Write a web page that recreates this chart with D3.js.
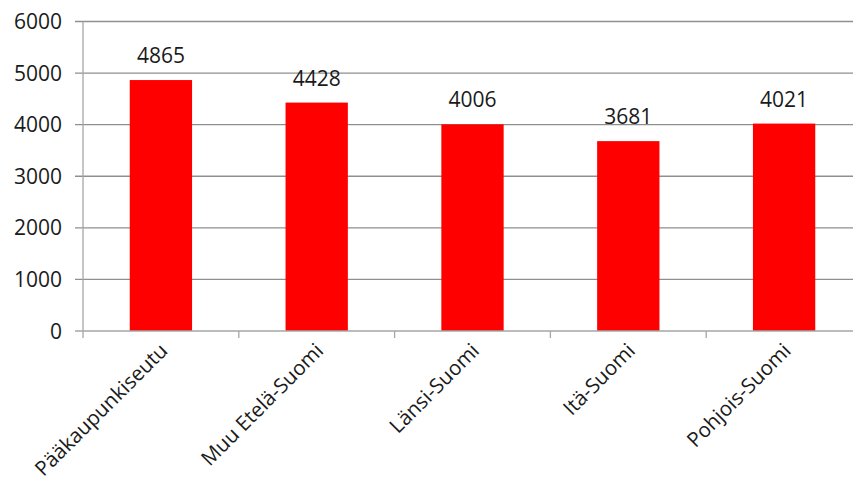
<!DOCTYPE html>
<html>
<head>
<meta charset="utf-8">
<script src="https://cdn.jsdelivr.net/npm/d3@7"></script>
<style>
  body { margin: 0; background: #fff; }
  text { font-family: "Open Sans", sans-serif; fill: #1a1a1a; }
</style>
</head>
<body>
<svg id="chart"></svg>
<script>
const regions = ["Pääkaupunkiseutu", "Muu Etelä-Suomi", "Länsi-Suomi", "Itä-Suomi", "Pohjois-Suomi"];
const values = [4865, 4428, 4006, 3681, 4021];
const yTicks = [0, 1000, 2000, 3000, 4000, 5000, 6000];

const width = 853, height = 486;
const svg = d3.select("#chart").attr("width", width).attr("height", height);

// plot area runs a bit past the right edge, like the original
const plotL = 83, plotR = 862, plotT = 21.5, plotB = 331;

const x = d3.scaleBand().domain(regions).range([plotL, plotR]).paddingInner(0.6).paddingOuter(0.3);
const y = d3.scaleLinear().domain([0, 6000]).range([plotB, plotT]);

// gridlines
svg.append("g")
  .selectAll("line")
  .data(yTicks.slice(1))
  .join("line")
  .attr("x1", plotL - 8).attr("x2", width)
  .attr("y1", d => y(d)).attr("y2", d => y(d))
  .attr("stroke", "#8f8f8f").attr("stroke-width", 1.3);

// y labels
svg.append("g")
  .selectAll("text")
  .data(yTicks)
  .join("text")
  .attr("x", 62).attr("y", d => y(d) + 7.5)
  .attr("text-anchor", "end")
  .attr("font-size", 21)
  .text(d => d);

// bars
svg.append("g")
  .selectAll("rect")
  .data(values)
  .join("rect")
  .attr("x", (d, i) => x(regions[i]))
  .attr("width", x.bandwidth())
  .attr("y", d => y(d))
  .attr("height", d => plotB - y(d))
  .attr("fill", "#ff0000");

// value labels
svg.append("g")
  .selectAll("text")
  .data(values)
  .join("text")
  .attr("x", (d, i) => x(regions[i]) + x.bandwidth() / 2)
  .attr("y", d => y(d) - 17)
  .attr("text-anchor", "middle")
  .attr("font-size", 21)
  .text(d => d);

// axes lines
svg.append("line")
  .attr("x1", plotL).attr("x2", plotL).attr("y1", plotT).attr("y2", plotB + 7)
  .attr("stroke", "#a6a6a6").attr("stroke-width", 1.3);
svg.append("line")
  .attr("x1", plotL - 8).attr("x2", width).attr("y1", plotB).attr("y2", plotB)
  .attr("stroke", "#a6a6a6").attr("stroke-width", 1.3);
svg.append("g")
  .selectAll("line")
  .data(d3.range(1, regions.length))
  .join("line")
  .attr("x1", i => plotL + i * (plotR - plotL) / regions.length)
  .attr("x2", i => plotL + i * (plotR - plotL) / regions.length)
  .attr("y1", plotB).attr("y2", plotB + 7)
  .attr("stroke", "#a6a6a6").attr("stroke-width", 1.3);

// category labels, rotated
svg.append("g")
  .selectAll("text")
  .data(regions)
  .join("text")
  .attr("transform", d => `translate(${x(d) + x.bandwidth() / 2 + 8},${plotB + 21}) rotate(-45)`)
  .attr("text-anchor", "end")
  .attr("font-size", 20.5)
  .text(d => d);
</script>
</body>
</html>
